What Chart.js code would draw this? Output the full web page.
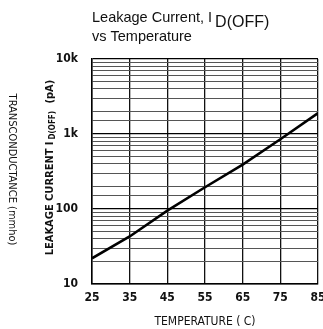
<!DOCTYPE html>
<html><head><meta charset="utf-8">
<script src="https://cdn.jsdelivr.net/npm/chart.js@4/dist/chart.umd.min.js"></script>
<style>html,body{margin:0;padding:0;background:#fff}#wrap{width:323px;height:329px}</style>
</head><body><div id="wrap"><canvas id="c" width="323" height="329"></canvas></div>
<script>
const temperatures = [25, 35, 45, 55, 65, 75, 85];
const leakagePA = [22, 43, 95, 195, 390, 850, 1900];
const xTicks = [25, 35, 45, 55, 65, 75, 85];
const yTickLabels = {10: '10', 100: '100', 1000: '1k', 10000: '10k'};

const F = '"Liberation Sans Narrow","DejaVu Sans Condensed","Liberation Sans",sans-serif';

const textPlugin = {
  id: 'texts',
  afterDraw(chart) {
    const ctx = chart.ctx; const a = chart.chartArea;
    ctx.save();
    ctx.fillStyle = '#111';
    // Title
    ctx.textBaseline = 'alphabetic'; ctx.textAlign = 'left';
    ctx.font = '14.5px "Liberation Sans",Arial,sans-serif';
    const t1 = 'Leakage Current, I';
    ctx.fillText(t1, 92, 22);
    const w = ctx.measureText(t1).width;
    ctx.font = '16px "Liberation Sans",Arial,sans-serif';
    ctx.fillText('D(OFF)', 92 + w + 3, 27);
    ctx.font = '14.5px "Liberation Sans",Arial,sans-serif';
    ctx.fillText('vs Temperature', 92, 41);
    // X title
    ctx.font = '12px ' + F; ctx.textAlign = 'center';
    ctx.fillText('TEMPERATURE ( C)', 205, 325);
    // Y title (leakage), rotated CCW
    ctx.save();
    ctx.translate(50, (a.top + a.bottom) / 2 - 4);
    ctx.rotate(-Math.PI / 2);
    ctx.textAlign = 'left'; ctx.textBaseline = 'middle';
    ctx.font = 'bold 11px ' + F;
    const p1 = 'LEAKAGE CURRENT I';
    const p2 = 'D(OFF)';
    const p3 = ' (pA)';
    const w1 = ctx.measureText(p1).width;
    ctx.font = 'bold 8px ' + F;
    const w2 = ctx.measureText(p2).width;
    ctx.font = 'bold 11px ' + F;
    const w3 = ctx.measureText(p3).width;
    const total = w1 + 2 + w2 + 4 + w3;
    let x0 = -total / 2;
    ctx.fillText(p1, x0, 0);
    ctx.font = 'bold 8px ' + F;
    ctx.fillText(p2, x0 + w1 + 2, 3);
    ctx.font = 'bold 11px ' + F;
    ctx.fillText(p3, x0 + w1 + 2 + w2 + 4, 0);
    ctx.restore();
    // Y title (transconductance), rotated CW
    ctx.save();
    ctx.translate(12, (a.top + a.bottom) / 2 - 2);
    ctx.rotate(Math.PI / 2);
    ctx.textAlign = 'center'; ctx.textBaseline = 'middle';
    ctx.font = '11px ' + F;
    ctx.fillText('TRANSCONDUCTANCE (mmho)', 0, 0);
    ctx.restore();
    ctx.restore();
  }
};

new Chart(document.getElementById('c'), {
  type: 'line',
  data: {
    datasets: [{
      data: temperatures.map((t, i) => ({x: t, y: leakagePA[i]})),
      borderColor: '#000', borderWidth: 2.6, pointRadius: 0, tension: 0, fill: false
    }]
  },
  options: {
    responsive: false, animation: false, devicePixelRatio: 1,
    layout: {padding: {left: 0, right: 0, top: 59, bottom: 0}},
    plugins: {legend: {display: false}, tooltip: {enabled: false}, title: {display: false}},
    scales: {
      x: {
        type: 'linear', min: 25, max: 85,
        afterBuildTicks(s) { s.ticks = xTicks.map(v => ({value: v})); },
        afterFit(s) { s.height = 45; s.paddingRight = 5; s.paddingLeft = 0; },
        border: {display: true, color: '#000', width: 1.5},
        grid: {color: '#111', lineWidth: 1.3, drawTicks: false},
        ticks: {padding: 7, color: '#111', font: {family: F, size: 12, weight: 'bold'}, maxRotation: 0}
      },
      y: {
        type: 'logarithmic', min: 10, max: 10000,
        afterFit(s) { s.width = 92; },
        border: {display: true, color: '#000', width: 1.5},
        grid: {
          drawTicks: false,
          color: ctx => (yTickLabels[ctx.tick && ctx.tick.value] ? '#000' : '#555'),
          lineWidth: ctx => (yTickLabels[ctx.tick && ctx.tick.value] ? 1.2 : 1)
        },
        ticks: {
          autoSkip: false, padding: 14, color: '#111',
          font: {family: F, size: 12, weight: 'bold'},
          callback: v => yTickLabels[v] || ''
        }
      }
    }
  },
  plugins: [textPlugin]
});
</script>
</body></html>
